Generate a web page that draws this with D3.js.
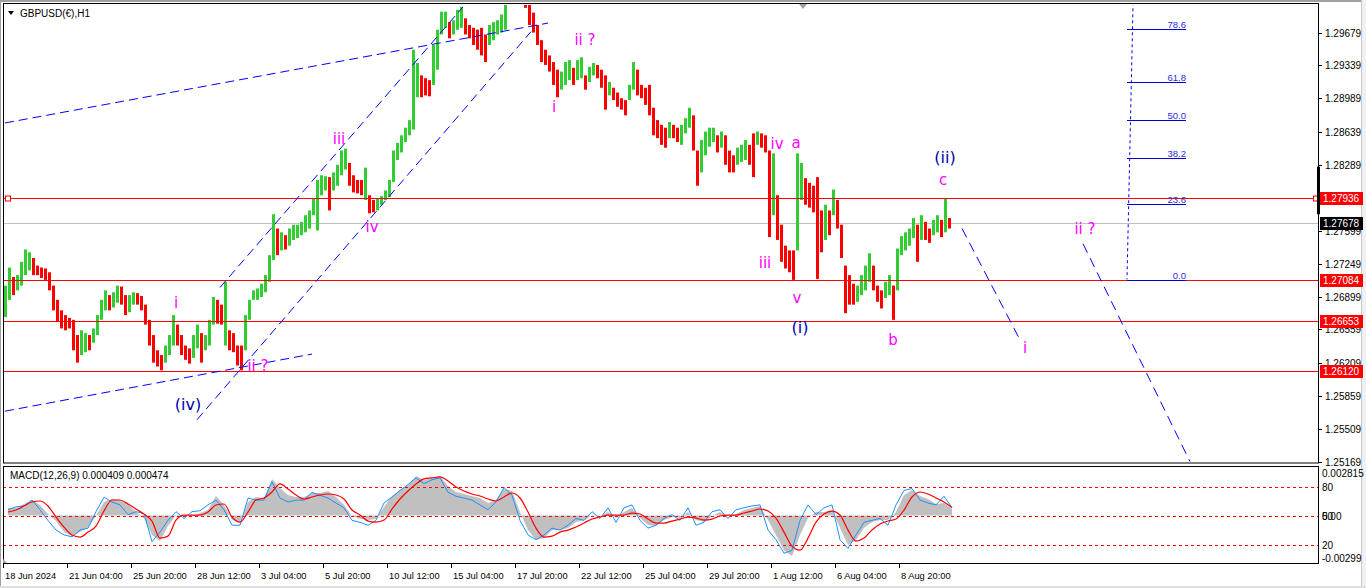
<!DOCTYPE html>
<html><head><meta charset="utf-8">
<script src="https://cdn.jsdelivr.net/npm/d3@7"></script>
<style>
html,body{margin:0;padding:0;background:#fff;overflow:hidden}
svg{display:block}
text{font-family:"Liberation Sans",Arial,sans-serif}
</style></head><body>
<svg id="c" width="1366" height="588"></svg>
<script>
// ---------- DATA ----------
// 4-hour bins of the H1 chart (bin i covers hours 1+4i .. 4+4i)
const highs=[1.2702,1.2721,1.2711,1.2713,1.2727,1.2740,1.2737,1.2731,1.2723,1.2721,1.2720,1.2716,1.2702,1.2687,1.2676,1.2671,1.2668,1.2666,1.2650,1.2655,
1.2652,1.2650,1.2657,1.2671,1.2687,1.2697,1.2692,1.2695,1.2702,1.2701,1.2692,1.2692,1.2695,1.2694,1.2691,1.2682,1.2666,1.2650,1.2634,1.2629,
1.2639,1.2650,1.2671,1.2661,1.2650,1.2639,1.2636,1.2650,1.2661,1.2652,1.2650,1.2666,1.2690,1.2687,1.2682,1.2706,1.2655,1.2652,1.2639,1.2639,
1.2671,1.2687,1.2697,1.2699,1.2704,1.2713,1.2734,1.2777,1.2762,1.2758,1.2755,1.2762,1.2766,1.2766,1.2769,1.2776,1.2781,1.2794,1.2813,1.2818,
1.2817,1.2816,1.2821,1.2829,1.2844,1.2846,1.2831,1.2818,1.2813,1.2813,1.2826,1.2797,1.2792,1.2794,1.2796,1.2802,1.2813,1.2844,1.2852,1.2860,
1.2868,1.2876,1.2950,1.2936,1.2923,1.2920,1.2918,1.2955,1.2971,1.2990,1.2990,1.2979,1.2981,1.2992,1.2995,1.2983,1.2976,1.2973,1.2971,1.2973,
1.2966,1.2976,1.2979,1.2981,1.2987,1.2997,1.3023,1.3034,1.3039,1.3034,1.3013,1.2997,1.2989,1.2976,1.2960,1.2950,1.2944,1.2937,1.2929,1.2927,
1.2937,1.2939,1.2931,1.2939,1.2942,1.2923,1.2932,1.2936,1.2934,1.2929,1.2923,1.2916,1.2910,1.2905,1.2899,1.2897,1.2913,1.2937,1.2929,1.2913,
1.2910,1.2913,1.2889,1.2876,1.2871,1.2868,1.2874,1.2871,1.2868,1.2871,1.2878,1.2889,1.2881,1.2844,1.2855,1.2864,1.2868,1.2868,1.2860,1.2864,
1.2860,1.2844,1.2839,1.2847,1.2850,1.2855,1.2850,1.2862,1.2864,1.2862,1.2860,1.2844,1.2841,1.2797,1.2766,1.2744,1.2739,1.2739,1.2841,1.2831,
1.2815,1.2810,1.2807,1.2816,1.2781,1.2787,1.2781,1.2803,1.2792,1.2766,1.2723,1.2713,1.2704,1.2702,1.2713,1.2723,1.2736,1.2723,1.2702,1.2697,
1.2706,1.2713,1.2702,1.2741,1.2754,1.2758,1.2762,1.2773,1.2766,1.2776,1.2769,1.2762,1.2771,1.2776,1.2771,1.2794,1.2773];
const lows=[1.2669,1.2687,1.2692,1.2697,1.2702,1.2713,1.2718,1.2713,1.2713,1.2710,1.2708,1.2697,1.2676,1.2664,1.2657,1.2655,1.2657,1.2634,1.2621,1.2629,
1.2632,1.2634,1.2642,1.2650,1.2666,1.2676,1.2676,1.2679,1.2684,1.2682,1.2671,1.2674,1.2682,1.2682,1.2676,1.2661,1.2639,1.2621,1.2617,1.2613,
1.2621,1.2629,1.2639,1.2639,1.2629,1.2624,1.2620,1.2626,1.2636,1.2621,1.2634,1.2639,1.2661,1.2662,1.2661,1.2639,1.2634,1.2632,1.2618,1.2613,
1.2634,1.2666,1.2687,1.2687,1.2690,1.2695,1.2706,1.2729,1.2734,1.2739,1.2740,1.2744,1.2750,1.2752,1.2755,1.2758,1.2762,1.2776,1.2760,1.2797,
1.2802,1.2781,1.2802,1.2807,1.2818,1.2824,1.2807,1.2800,1.2799,1.2797,1.2792,1.2778,1.2779,1.2781,1.2787,1.2792,1.2795,1.2811,1.2834,1.2842,
1.2853,1.2860,1.2866,1.2900,1.2900,1.2902,1.2901,1.2913,1.2929,1.2966,1.2973,1.2962,1.2966,1.2971,1.2973,1.2966,1.2962,1.2955,1.2950,1.2944,
1.2937,1.2955,1.2960,1.2966,1.2968,1.2971,1.3002,1.3008,1.3013,1.3008,1.2994,1.2976,1.2968,1.2955,1.2937,1.2934,1.2927,1.2913,1.2900,1.2908,
1.2913,1.2918,1.2913,1.2918,1.2920,1.2908,1.2916,1.2923,1.2920,1.2910,1.2887,1.2902,1.2897,1.2890,1.2887,1.2881,1.2897,1.2908,1.2902,1.2899,
1.2892,1.2881,1.2860,1.2857,1.2850,1.2847,1.2857,1.2857,1.2853,1.2850,1.2862,1.2868,1.2844,1.2807,1.2821,1.2839,1.2848,1.2853,1.2842,1.2847,
1.2829,1.2821,1.2821,1.2829,1.2832,1.2834,1.2829,1.2816,1.2850,1.2847,1.2842,1.2753,1.2776,1.2750,1.2727,1.2720,1.2716,1.2708,1.2739,1.2792,
1.2787,1.2784,1.2779,1.2709,1.2737,1.2750,1.2755,1.2776,1.2762,1.2731,1.2673,1.2682,1.2682,1.2685,1.2692,1.2697,1.2706,1.2697,1.2685,1.2678,
1.2689,1.2692,1.2666,1.2697,1.2734,1.2739,1.2744,1.2752,1.2727,1.2750,1.2750,1.2747,1.2755,1.2758,1.2753,1.2758,1.2762];

// MACD panel, sampled every 8 hours (hour 5+8k)
const macdMain=[0.00045,0.00045,0.00069,0.00093,0.00063,0.00009,-0.00033,-0.00099,-0.00123,-0.00099,-0.00069,-0.00003,0.00081,0.00099,0.00093,0.00069,0.00021,-0.00015,-0.00117,-0.00153,
-0.00063,0.00003,0.00003,-0.00003,0.00015,0.00033,0.00117,0.00063,-0.00027,-0.00039,0.00081,0.00111,0.00105,0.00219,0.00165,0.00123,0.00111,0.00111,0.00135,0.00135,
0.00147,0.00111,0.00063,-0.00003,-0.00021,-0.00027,-0.00021,0.00051,0.00117,0.00153,0.00183,0.00237,0.00213,0.00225,0.00237,0.00177,0.00141,0.00129,0.00117,0.00105,
0.00075,0.00093,0.00159,0.00147,0.00021,-0.00087,-0.00147,-0.00135,-0.00087,-0.00087,-0.00075,-0.00039,-0.00027,0.00003,-0.00003,0.00021,-0.00015,0.00021,0.00045,-0.00015,
-0.00057,-0.00063,-0.00027,-0.00009,-0.00015,0.00021,-0.00027,-0.00039,-0.00003,0.00021,-0.00003,0.00009,0.00033,0.00045,0.00057,-0.00027,-0.00117,-0.00207,-0.00243,-0.00117,
-0.00015,0.00021,0.00021,0.00033,-0.00075,-0.00177,-0.00147,-0.00075,-0.00039,-0.00027,-0.00027,0.00021,0.00123,0.00153,0.00117,0.00099,0.00069,0.00075,0.000409];
const macdSignal=[0.00021,0.00033,0.00057,0.00081,0.00087,0.00057,-0.00009,-0.00069,-0.00117,-0.00129,-0.00099,-0.00063,0.00027,0.00093,0.00093,0.00069,0.00039,0.00009,-0.00033,-0.00135,
-0.00123,-0.00027,0.00003,0.00003,0.00003,0.00021,0.00063,0.00069,-0.00009,-0.00039,0.00021,0.00093,0.00105,0.00141,0.00189,0.00159,0.00123,0.00099,0.00111,0.00123,
0.00129,0.00123,0.00099,0.00033,0.00003,-0.00033,-0.00039,-0.00027,0.00039,0.00099,0.00147,0.00189,0.00219,0.00225,0.00231,0.00207,0.00171,0.00147,0.00129,0.00117,
0.00099,0.00087,0.00111,0.00135,0.00105,0.00021,-0.00075,-0.00129,-0.00123,-0.00099,-0.00087,-0.00069,-0.00045,-0.00021,-0.00009,0.00003,0.00003,0.00003,0.00015,0.00009,
-0.00021,-0.00045,-0.00045,-0.00033,-0.00021,-0.00009,-0.00015,-0.00027,-0.00021,-0.00003,0.00003,0.00003,0.00015,0.00027,0.00039,0.00027,-0.00015,-0.00099,-0.00183,-0.00207,
-0.00135,-0.00039,0.00009,0.00027,0.00003,-0.00087,-0.00153,-0.00135,-0.00087,-0.00051,-0.00033,-0.00021,0.00033,0.00111,0.00141,0.00129,0.00105,0.00081,0.000474];
const oscLine=[56,59,60,66,56,45,35,30,28,35,37,54,69,64,61,51,54,52,23,33,
45,54,47,54,55,61,66,56,40,40,68,66,66,85,68,64,66,66,74,71,
68,63,58,45,43,40,45,63,69,76,82,89,83,87,89,74,70,68,66,61,
56,64,79,71,45,30,25,30,37,35,40,47,45,54,47,58,43,58,61,45,
37,40,47,51,45,58,40,43,54,56,47,56,58,60,61,35,25,11,14,45,
61,51,58,61,25,16,30,43,45,47,40,61,76,78,66,63,61,70,58];
const oscLevels=[80,50,20];

// axis ticks
const priceTicks=[1.29679,1.29339,1.28989,1.28639,1.28289,1.27939,1.27599,1.27249,1.26899,1.26559,1.26209,1.25859,1.25509,1.25169];
const timeTickHours=[0,64,128,192,256,320,384,448,512,576,640,704,768,832,896];
const timeTickLabels=["18 Jun 2024","21 Jun 04:00","25 Jun 20:00","28 Jun 12:00","3 Jul 04:00","5 Jul 20:00","10 Jul 12:00","15 Jul 04:00","17 Jul 20:00","22 Jul 12:00","25 Jul 04:00","29 Jul 20:00","1 Aug 12:00","6 Aug 04:00","8 Aug 20:00"];
const macdAxisLabels=["0.002815","-0.00299"];
const macdRange=[-0.00299,0.002815];

// horizontal levels
const redLevels=[1.27936,1.27084,1.26653,1.26120];
const bidPrice=1.27678;
const rangeMarker=[1.2777,1.2827];

// trend lines [hour, price] pairs
const channelLines=[
  [[2,1.2570],[309,1.2630]],
  [[2,1.2873],[545,1.2978]],
  [[194,1.2561],[528,1.2969]],
  [[217,1.2700],[460,1.2995]]
];
const projectionLines=[
  [[959,1.2762],[1016,1.2647]],
  [[1080,1.2746],[1187,1.2517]]
];

// Fibonacci
const fibHigh=1.3044, fibLow=1.27084;
const fibLevels=[0,23.6,38.2,50,61.8,78.6];
const fibLabels=["0.0","23.6","38.2","50.0","61.8","78.6"];
const fibHours=[1124,1183], fibAnchorHours=[1131,1124];

// wave labels [text, hour, price, kind]
const waveLabels=[
  ["(iv)",185,1.2577,"major"],["i",173,1.2684,"minor"],["ii ?",255,1.2617,"minor"],
  ["iii",336,1.2856,"minor"],["iv",369,1.2764,"minor"],["i",551,1.2890,"minor"],
  ["ii ?",582,1.2960,"minor"],["iv",774,1.2851,"minor"],["a",793,1.2852,"minor"],
  ["iii",762,1.2726,"minor"],["v",794,1.2689,"minor"],["(i)",797,1.2658,"major"],
  ["b",890,1.2645,"minor"],["(ii)",942,1.2837,"major"],["c",940,1.2813,"minor"],
  ["i",1022,1.2636,"minor"],["ii ?",1082,1.2761,"minor"]
];

// ---------- DRAW ----------
const W=1366,H=588;
const X0=3,X1=1318,Y0=4,Y1=463,M0=466,M1=563;
const svg=d3.select('#c');
const x=d3.scaleLinear().domain([0,1315]).range([X0,X1]);
const y=d3.scaleLinear().domain([1.25155,1.29970]).range([463,5]);
const yM=d3.scaleLinear().domain(macdRange).range([565.5,468.5]);
const yO=d3.scaleLinear().domain([0,100]).range([563.9,467.2]);

svg.append('rect').attr('width',W).attr('height',H).attr('fill','#fff');
// window frame
svg.append('rect').attr('x',0).attr('y',0).attr('width',W).attr('height',2).attr('fill','#a0a0a0');
svg.append('rect').attr('x',0).attr('y',0).attr('width',1).attr('height',H).attr('fill','#a0a0a0');
svg.append('rect').attr('x',1361).attr('y',0).attr('width',5).attr('height',H).attr('fill','#f0f0f0');
svg.append('rect').attr('x',1361).attr('y',0).attr('width',1).attr('height',H).attr('fill','#c8c8c8');
svg.append('rect').attr('x',0).attr('y',586).attr('width',W).attr('height',2).attr('fill','#e0e0e0');

const defs=svg.append('defs');
defs.append('clipPath').attr('id','cm').append('rect').attr('x',X0+1).attr('y',Y0+1).attr('width',X1-X0-1).attr('height',Y1-Y0-1);
defs.append('clipPath').attr('id','cs').append('rect').attr('x',X0+1).attr('y',M0+1).attr('width',X1-X0-1).attr('height',M1-M0-1);

const gm=svg.append('g').attr('clip-path','url(#cm)');

// bid line
gm.append('line').attr('x1',X0).attr('x2',X1).attr('y1',Math.round(y(bidPrice))+0.5).attr('y2',Math.round(y(bidPrice))+0.5).attr('stroke','#c0c0c0');

// bars
const bins=highs.map((h,i)=>({h:1+4*i,hi:h,lo:lows[i]}));
bins.forEach((d,i)=>{const m=(d.hi+d.lo)/2;const pm=i?(highs[i-1]+lows[i-1])/2:m;d.up=m>=pm;});
gm.selectAll('rect.bar').data(bins).join('rect').attr('class','bar')
  .attr('x',d=>x(d.h)).attr('width',3)
  .attr('y',d=>y(d.hi)).attr('height',d=>Math.max(1,y(d.lo)-y(d.hi)))
  .attr('fill',d=>d.up?'#32cd32':'#ff0000');

// red horizontal levels
redLevels.forEach(p=>{
  const yy=Math.round(y(p))+0.5;
  gm.append('line').attr('x1',X0).attr('x2',X1).attr('y1',yy).attr('y2',yy).attr('stroke','#ff0000');
});
{const yy=Math.round(y(redLevels[0]))+0.5;
 [[5],[1313]].forEach(([xx])=>svg.append('rect').attr('x',xx+0.5).attr('y',yy-2.5).attr('width',5).attr('height',5).attr('fill','#fff').attr('stroke','#ff0000'));}

// channel lines
channelLines.forEach(l=>{
  gm.append('line').attr('x1',x(l[0][0])).attr('y1',y(l[0][1])).attr('x2',x(l[1][0])).attr('y2',y(l[1][1]))
    .attr('stroke','#0000ff').attr('stroke-width',1).attr('stroke-dasharray','9,5');
});
projectionLines.forEach(l=>{
  gm.append('line').attr('x1',x(l[0][0])).attr('y1',y(l[0][1])).attr('x2',x(l[1][0])).attr('y2',y(l[1][1]))
    .attr('stroke','#0000ff').attr('stroke-width',1).attr('stroke-dasharray','10,6');
});

// fibonacci
gm.append('line').attr('x1',x(fibAnchorHours[0])).attr('y1',y(fibHigh)).attr('x2',x(fibAnchorHours[1])).attr('y2',y(fibLow))
  .attr('stroke','#0000ff').attr('stroke-dasharray','3,3');
fibLevels.forEach((lv,i)=>{
  const p=fibLow+(fibHigh-fibLow)*lv/100;
  const yy=Math.round(y(p))+0.5;
  gm.append('line').attr('x1',x(fibHours[0])).attr('x2',x(fibHours[1])).attr('y1',yy).attr('y2',yy).attr('stroke','#0000cd');
  gm.append('text').attr('x',x(fibHours[1])).attr('y',yy-2).attr('text-anchor','end').attr('font-size','9.5px').attr('fill','#2a2ae0').text(fibLabels[i]);
});

// wave labels
waveLabels.forEach(([t,h,p,k])=>{
  gm.append('text').attr('x',x(h)).attr('y',y(p)).attr('text-anchor','middle').attr('dominant-baseline','central')
    .style('font-family','"DejaVu Sans",sans-serif')
    .attr('font-size',k==='major'?'16px':'15px').attr('fill',k==='major'?'#0000b0':'#ff00ff').text(t);
});

// top marker
svg.append('path').attr('d','M799,4 L807,4 L803,9 Z').attr('fill','#a0a0a0');

// main frame
svg.append('rect').attr('x',X0+0.5).attr('y',Y0-0.5).attr('width',X1-X0).attr('height',Y1-Y0+0.5).attr('fill','none').attr('stroke','#000');

// title
svg.append('path').attr('d','M8,11 L14,11 L11,15 Z').attr('fill','#000');
svg.append('text').attr('x',20).attr('y',17).attr('font-size','10px').attr('fill','#000').text('GBPUSD(€),H1');

// price axis
const ga=svg.append('g');
priceTicks.forEach(p=>{
  const yy=Math.round(y(p))+0.5;
  ga.append('line').attr('x1',X1).attr('x2',X1+4).attr('y1',yy).attr('y2',yy).attr('stroke','#000');
  ga.append('text').attr('x',1325).attr('y',yy+3.5).attr('font-size','10px').attr('fill','#000').text(p.toFixed(5));
});
// range marker
ga.append('rect').attr('x',X1-1).attr('y',y(rangeMarker[1])).attr('width',3).attr('height',y(rangeMarker[0])-y(rangeMarker[1])).attr('fill','#000');
// price labels
redLevels.forEach(p=>{
  const yy=Math.round(y(p))+0.5;
  ga.append('rect').attr('x',1320).attr('y',yy-6.5).attr('width',43).attr('height',13).attr('fill','#ff0000');
  ga.append('text').attr('x',1323).attr('y',yy+3.5).attr('font-size','10px').attr('fill','#fff').text(p.toFixed(5));
});
{const yy=Math.round(y(bidPrice))+0.5;
 ga.append('rect').attr('x',1320).attr('y',yy-6.5).attr('width',43).attr('height',13).attr('fill','#000');
 ga.append('text').attr('x',1323).attr('y',yy+3.5).attr('font-size','10px').attr('fill','#fff').text(bidPrice.toFixed(5));}

// ---------- MACD panel ----------
const gs=svg.append('g').attr('clip-path','url(#cs)');
const mh=k=>x(5+8*k);
gs.append('path').datum(macdMain).attr('d',d3.area().x((d,i)=>mh(i)).y0(yM(0)).y1(d=>yM(d))).attr('fill','#c0c0c0');
oscLevels.forEach(lv=>{
  const yy=Math.round(yO(lv))+0.5;
  gs.append('line').attr('x1',X0).attr('x2',X1).attr('y1',yy).attr('y2',yy).attr('stroke','#ff0000').attr('stroke-dasharray','3,3');
});
gs.append('path').datum(oscLine).attr('d',d3.line().x((d,i)=>mh(i)).y(d=>yO(d))).attr('fill','none').attr('stroke','#1e90ff').attr('stroke-width',1);
gs.append('path').datum(macdSignal).attr('d',d3.line().x((d,i)=>mh(i)).y(d=>yM(d)).curve(d3.curveMonotoneX)).attr('fill','none').attr('stroke','#ff0000').attr('stroke-width',1.2);
svg.append('rect').attr('x',X0+0.5).attr('y',M0+0.5).attr('width',X1-X0).attr('height',M1-M0).attr('fill','none').attr('stroke','#000');
svg.append('text').attr('x',10).attr('y',479).attr('font-size','10px').attr('fill','#000')
  .text(`MACD(12,26,9) ${macdMain[macdMain.length-1].toFixed(6)} ${macdSignal[macdSignal.length-1].toFixed(6)}`);
// macd axis labels
svg.append('text').attr('x',1322).attr('y',yM(macdRange[1])+8).attr('font-size','10px').text(macdAxisLabels[0]);
svg.append('text').attr('x',1322).attr('y',yM(macdRange[0])-4).attr('font-size','10px').text(macdAxisLabels[1]);
oscLevels.forEach(lv=>svg.append('text').attr('x',1322).attr('y',yO(lv)+4).attr('font-size','10px').text(String(lv)));
svg.append('text').attr('x',1322).attr('y',yM(0)+4).attr('font-size','10px').text('0.00');

// time axis
const gt=svg.append('g');
svg.append('path').attr('d',`M${X0},${M1-4} L${X0+4},${M1} L${X0},${M1} Z`).attr('fill','#a0a0a0');
timeTickHours.forEach((h,i)=>{
  const xx=Math.round(x(h))+0.5;
  gt.append('line').attr('x1',xx).attr('x2',xx).attr('y1',M1).attr('y2',M1+5).attr('stroke','#000');
  gt.append('text').attr('x',xx+1.5).attr('y',579).attr('font-size','9.3px').attr('fill','#000').text(timeTickLabels[i]);
});
</script>
</body></html>
